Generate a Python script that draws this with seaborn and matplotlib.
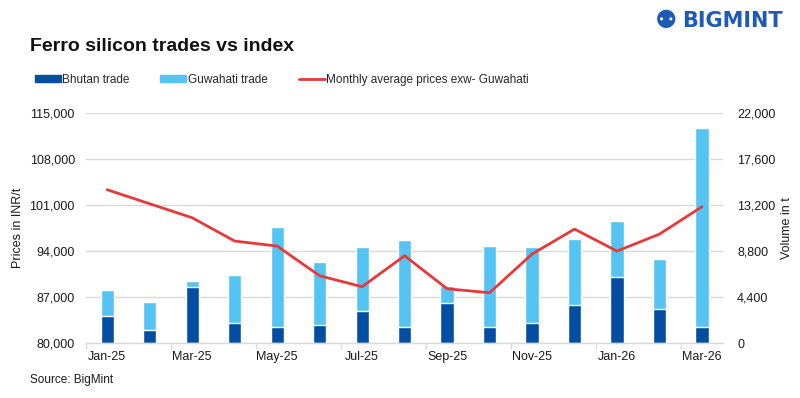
import matplotlib
matplotlib.use("Agg")
import matplotlib.pyplot as plt
import seaborn as sns
import numpy as np
import pandas as pd
from matplotlib.ticker import FuncFormatter, FixedLocator
from matplotlib.lines import Line2D
from matplotlib.patches import Patch

months = ["Jan-25", "Feb-25", "Mar-25", "Apr-25", "May-25", "Jun-25", "Jul-25", "Aug-25",
          "Sep-25", "Oct-25", "Nov-25", "Dec-25", "Jan-26", "Feb-26", "Mar-26"]
bhutan = [2590, 1250, 5360, 1920, 1530, 1720, 3070, 1530,
          3830, 1530, 1920, 3640, 6320, 3260, 1530]
total_volume = [5080, 3930, 5940, 6550, 11110, 7760, 9230, 9870,
                5460, 9290, 9200, 9960, 11690, 8050, 20600]
guwahati = [t - b for t, b in zip(total_volume, bhutan)]
prices = [103370, 101230, 99100, 95550, 94780, 90260, 88590, 93310,
          88280, 87670, 93560, 97370, 94020, 96610, 100780]

left_ticks = [80000, 87000, 94000, 101000, 108000, 115000]
right_ticks = [0, 4400, 8800, 13200, 17600, 22000]

DARK = "#034EA2"
LIGHT = "#56C4F2"
RED = "#E8393A"
GRID = "#D9D9D9"
TXT = "#1a1a1a"

sns.set_theme(style="white")
plt.rcParams['font.family'] = ['Liberation Sans', 'DejaVu Sans']

df = pd.DataFrame({"month": months, "bhutan": bhutan, "total": total_volume, "price": prices})

fig = plt.figure(figsize=(8, 3.98), dpi=100)
ax = fig.add_axes([0.1075, 0.138, 0.904 - 0.1075, 0.577])
ax2 = ax.twinx()

# bars on right axis (light = total, dark = Bhutan portion at the base)
sns.barplot(data=df, x="month", y="total", color=LIGHT, width=0.31, ax=ax2,
            saturation=1, order=months)
sns.barplot(data=df, x="month", y="bhutan", color=DARK, width=0.31, ax=ax2,
            saturation=1, order=months)
ax2.set_ylim(0, 22000)
ax2.yaxis.set_major_locator(FixedLocator(right_ticks))
ax2.yaxis.set_major_formatter(FuncFormatter(lambda v, p: f"{int(v):,}"))
ax2.grid(axis="y", color=GRID, linewidth=1)
ax2.set_axisbelow(True)
ax2.set_ylabel("Volume in t", fontsize=9, color=TXT, labelpad=4)
ax2.tick_params(axis="y", length=0, labelsize=9, colors=TXT, pad=10)

# line on left axis
xpos = np.arange(len(months))
sns.lineplot(x=xpos, y=df["price"], color=RED, linewidth=2, ax=ax, legend=False)
ax.set_zorder(ax2.get_zorder() + 1)
ax.patch.set_visible(False)
ax.set_ylim(80000, 115000)
ax.set_xlim(-0.5, len(months) - 0.5)
ax2.set_xlim(-0.5, len(months) - 0.5)
ax.yaxis.set_major_locator(FixedLocator(left_ticks))
ax.yaxis.set_major_formatter(FuncFormatter(lambda v, p: f"{int(v):,}"))
ax.set_ylabel("Prices in INR/t", fontsize=9, color=TXT, labelpad=4)
ax.tick_params(axis="y", length=0, labelsize=9, colors=TXT, pad=8)

# x-axis: labels every other month, tick marks between pairs
ax.set_xticks(xpos[::2])
ax.set_xticklabels(months[::2])
ax.set_xticks(np.arange(-0.5, len(months), 2), minor=True)
ax.tick_params(axis="x", which="major", length=0, labelsize=9, colors=TXT, pad=6)
ax.tick_params(axis="x", which="minor", length=4, color=GRID, width=1, bottom=True)
ax.set_xlabel("")
ax2.set_xlabel("")
ax2.tick_params(axis="x", which="both", length=0, labelbottom=False)

for a in (ax, ax2):
    for s in a.spines.values():
        s.set_visible(False)
ax.spines["bottom"].set_visible(True)
ax.spines["bottom"].set_color(GRID)
ax.spines["bottom"].set_linewidth(1)

# title, legend, source, logo
fig.text(0.038, 0.882, "Ferro silicon trades vs index", fontsize=14, fontweight="bold",
         color="#111111", va="center")
handles = [Patch(color=DARK), Patch(color=LIGHT), Line2D([0], [0], color=RED, lw=2)]
labels = ["Bhutan trade", "Guwahati trade", "Monthly average prices exw- Guwahati"]
fig.legend(handles, labels, loc="center left", bbox_to_anchor=(0.03, 0.80), ncol=3,
           frameon=False, fontsize=8.5, handlelength=2.2, handleheight=0.6,
           handletextpad=0.15, columnspacing=2.6)
fig.text(0.037, 0.045, "Source: BigMint", fontsize=8.5, color=TXT, va="center")
fig.text(0.853, 0.948, "BIGMINT", fontsize=15, fontweight="bold", color="#1F5BB5",
         va="center", family=["DejaVu Sans"])
fig.text(0.832, 0.948, "\u2689", fontsize=18, color="#1F5BB5", va="center", ha="center",
         family=["DejaVu Sans"])

fig.savefig("out.png", dpi=100)
